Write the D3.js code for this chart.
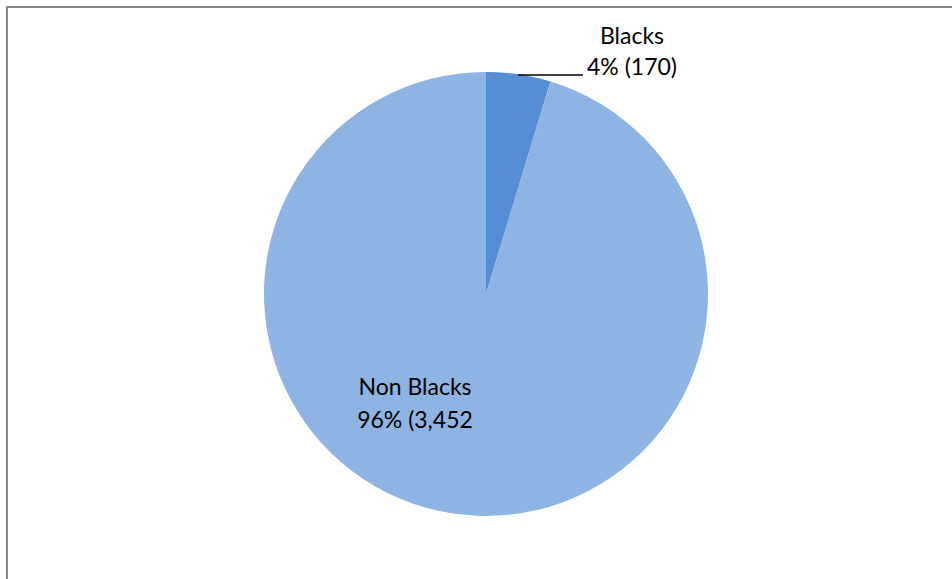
<!DOCTYPE html>
<html>
<head>
<meta charset="utf-8">
<script src="https://cdn.jsdelivr.net/npm/d3@7"></script>
<style>
body { margin:0; background:#fff; }
text { font-family: Lato, "Open Sans", sans-serif; fill:#000; }
</style>
</head>
<body>
<svg id="chart"></svg>
<script>
var categories = ["Blacks","Non Blacks"]
var counts = [170,3452]
var percents = ["4%","96%"]
var countLabels = ["(170)","(3,452"]
var colors = ["#558ED5","#8EB4E3"]

var screen = {width:952,height:579}
var center = {x:486,y:294}
var radius = 222

var svg = d3.select("#chart")
    .attr("width",screen.width)
    .attr("height",screen.height)

// frame
svg.append("rect")
    .attr("x",7).attr("y",7)
    .attr("width",screen.width)
    .attr("height",screen.height)
    .attr("fill","none")
    .attr("stroke","#888")
    .attr("stroke-width",2)

var data = categories.map(function(c,i){
    return {name:c,value:counts[i],pct:percents[i],lab:countLabels[i],color:colors[i]}
})

var pie = d3.pie()
    .value(function(d){ return d.value })
    .sort(null)

var arc = d3.arc()
    .innerRadius(0)
    .outerRadius(radius)

var target = svg.append("g")
    .attr("transform","translate("+center.x+","+center.y+")")

var arcs = pie(data)

target.selectAll("path")
    .data(arcs)
    .enter()
    .append("path")
    .attr("d",arc)
    .attr("fill",function(d){ return d.data.color })

// Blacks label with leader line
var b = arcs[0]
var lineY = -219

target.append("line")
    .attr("x1",32).attr("y1",lineY)
    .attr("x2",97).attr("y2",lineY)
    .attr("stroke","#000")
    .attr("stroke-width",1.5)

var labels = svg.append("g")
var fs = 23

labels.append("text")
    .attr("x",632).attr("y",44)
    .attr("text-anchor","middle")
    .attr("font-size",fs)
    .text(b.data.name)

labels.append("text")
    .attr("x",632).attr("y",75)
    .attr("text-anchor","middle")
    .attr("font-size",fs)
    .text(b.data.pct+" "+b.data.lab)

var n = arcs[1]
labels.append("text")
    .attr("x",415).attr("y",395)
    .attr("text-anchor","middle")
    .attr("font-size",fs)
    .text(n.data.name)

labels.append("text")
    .attr("x",415).attr("y",428)
    .attr("text-anchor","middle")
    .attr("font-size",fs)
    .text(n.data.pct+" "+n.data.lab)
</script>
</body>
</html>
